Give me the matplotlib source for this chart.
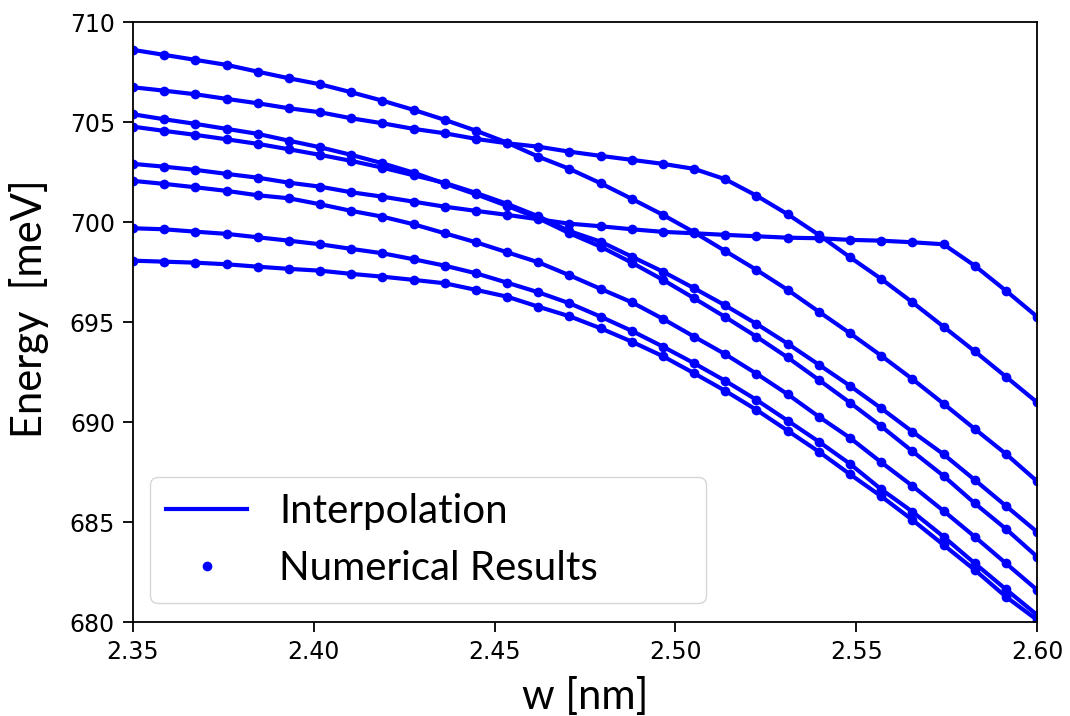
import numpy as np
import matplotlib
matplotlib.use('Agg')
import matplotlib.pyplot as plt

# well width grid (30 numerical points between 2.35 and 2.60 nm)
w = np.linspace(2.35, 2.60, 30)

# energies [meV], one list per level
E_a = [708.62, 708.37, 708.12, 707.87, 707.53, 707.20, 706.90, 706.50, 706.08, 705.62,
       705.12, 704.58, 703.98, 703.28, 702.67, 701.95, 701.17, 700.37, 699.50, 698.56,
       697.62, 696.62, 695.53, 694.45, 693.33, 692.16, 690.93, 689.67, 688.42, 687.05]
E_b = [706.75, 706.58, 706.40, 706.17, 705.95, 705.70, 705.50, 705.20, 704.95, 704.67,
       704.45, 704.17, 703.95, 703.78, 703.53, 703.32, 703.12, 702.92, 702.67, 702.15,
       701.33, 700.40, 699.37, 698.25, 697.17, 696.00, 694.78, 693.55, 692.28, 691.00]
E_c = [705.40, 705.15, 704.92, 704.67, 704.42, 704.08, 703.75, 703.37, 702.95, 702.48,
       701.93, 701.40, 700.82, 700.20, 699.45, 698.78, 697.98, 697.12, 696.20, 695.26,
       694.28, 693.24, 692.12, 690.98, 689.80, 688.55, 687.32, 685.95, 684.67, 683.28]
E_d = [704.78, 704.57, 704.37, 704.15, 703.92, 703.65, 703.37, 703.07, 702.73, 702.35,
       701.97, 701.47, 700.92, 700.30, 699.56, 699.03, 698.28, 697.53, 696.70, 695.84,
       694.92, 693.93, 692.88, 691.82, 690.70, 689.53, 688.40, 687.12, 685.82, 684.52]
E_e = [702.92, 702.78, 702.62, 702.42, 702.23, 701.98, 701.78, 701.50, 701.28, 701.03,
       700.78, 700.57, 700.37, 700.15, 699.93, 699.80, 699.65, 699.52, 699.45, 699.37,
       699.30, 699.23, 699.20, 699.12, 699.08, 699.00, 698.90, 697.83, 696.58, 695.28]
E_f = [702.07, 701.92, 701.75, 701.57, 701.35, 701.20, 700.90, 700.57, 700.28, 699.90,
       699.45, 699.00, 698.50, 698.00, 697.35, 696.67, 696.00, 695.17, 694.28, 693.40,
       692.43, 691.40, 690.28, 689.22, 688.00, 686.82, 685.57, 684.28, 682.95, 681.62]
E_g = [699.70, 699.65, 699.53, 699.42, 699.25, 699.08, 698.90, 698.67, 698.45, 698.15,
       697.83, 697.45, 696.98, 696.50, 695.95, 695.28, 694.57, 693.78, 692.95, 692.07,
       691.12, 690.08, 689.03, 687.92, 686.65, 685.53, 684.28, 682.95, 681.65, 680.37]
E_h = [698.08, 698.03, 697.98, 697.90, 697.78, 697.67, 697.58, 697.42, 697.28, 697.12,
       696.95, 696.62, 696.28, 695.78, 695.30, 694.70, 694.03, 693.30, 692.45, 691.57,
       690.62, 689.58, 688.53, 687.40, 686.30, 685.12, 683.87, 682.62, 681.28, 680.12]

levels = [E_a, E_b, E_c, E_d, E_e, E_f, E_g, E_h]

xticks = [2.35, 2.40, 2.45, 2.50, 2.55, 2.60]
yticks = [680, 685, 690, 695, 700, 705, 710]

label_font = ['Lato', 'DejaVu Sans']

fig = plt.figure(figsize=(10.7, 7.16), dpi=100)
ax = fig.add_axes([0.1243, 0.1309, 0.8449, 0.8380])

for k, E in enumerate(levels):
  ax.plot(w, E, '-', color='#0000ff', lw=3.0,
          label='Interpolation' if k == 0 else None)
for k, E in enumerate(levels):
  ax.plot(w, E, 'o', color='#0000ff', ms=7, mew=0,
          label='Numerical Results' if k == 0 else None)

ax.set_xlim(2.35, 2.60)
ax.set_ylim(680, 710)
ax.set_xticks(xticks, labels=['%.2f' % t for t in xticks])
ax.set_yticks(yticks, labels=['%d' % t for t in yticks])
ax.tick_params(labelsize=17, length=7, width=1.3, pad=6)
for s in ax.spines.values():
  s.set_linewidth(1.3)

ax.set_xlabel('w [nm]', fontsize=30, family=label_font, labelpad=9)
ax.set_ylabel('Energy  [meV]', fontsize=30, family=label_font)
ax.yaxis.set_label_coords(-0.093, 0.522)

leg = ax.legend(loc='lower left', bbox_to_anchor=(0.019, 0.032, 0.615, 0.2),
                mode='expand', borderaxespad=0,
                prop={'family': label_font, 'size': 29})

plt.savefig('out.png', dpi=100)
